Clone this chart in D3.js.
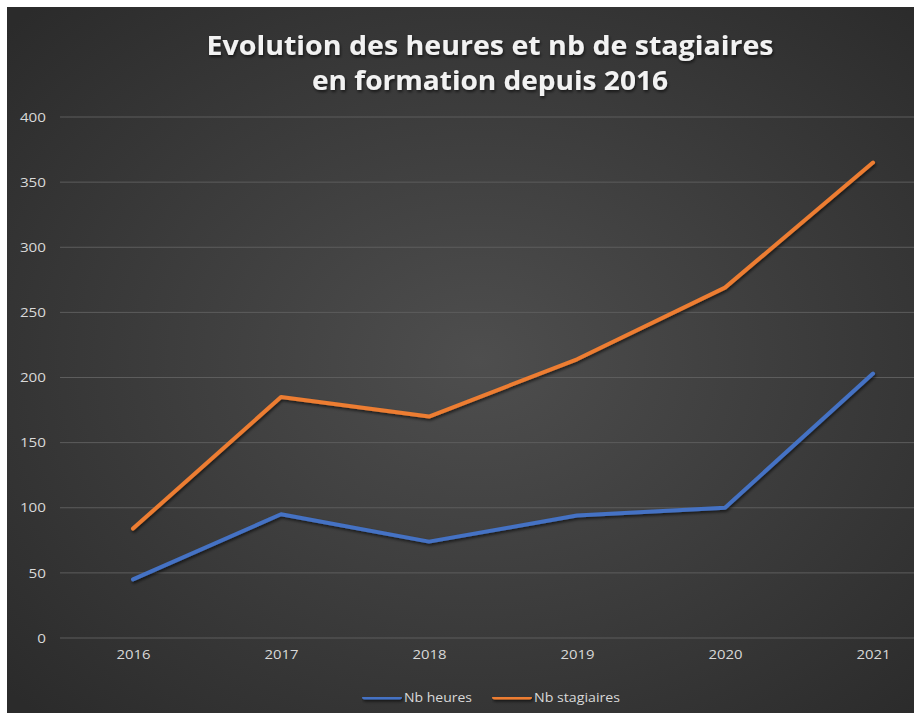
<!DOCTYPE html>
<html>
<head>
<meta charset="utf-8">
<script src="https://d3js.org/d3.v7.min.js"></script>
<style>
  html, body { margin: 0; padding: 0; background: #fff; }
  svg { display: block; }
  text { font-family: "Open Sans", "DejaVu Sans", sans-serif; }
</style>
</head>
<body>
<svg id="chart" width="914" height="717"></svg>
<script>
// data
const years = ["2016", "2017", "2018", "2019", "2020", "2021"];
const nbHeures = [45, 95, 74, 94, 100, 203];
const nbStagiaires = [84, 185, 170, 214, 269, 365];
const yTicks = [0, 50, 100, 150, 200, 250, 300, 350, 400];
const titleLines = ["Evolution des heures et nb de stagiaires", "en formation depuis 2016"];
const seriesNames = ["Nb heures", "Nb stagiaires"];
const seriesColors = ["#4472C4", "#ED7D31"];

const svg = d3.select("#chart");
const W = +svg.attr("width"), H = +svg.attr("height");

// background panel with a soft radial gradient
const defs = svg.append("defs");
const grad = defs.append("radialGradient")
    .attr("id", "bg").attr("cx", "52%").attr("cy", "50%").attr("r", "70%");
grad.append("stop").attr("offset", "0%").attr("stop-color", "#4e4e4e");
grad.append("stop").attr("offset", "100%").attr("stop-color", "#2b2b2b");

// shadow filter in user space so flat shapes don't vanish
const sh = defs.append("filter").attr("id", "shadow")
    .attr("filterUnits", "userSpaceOnUse")
    .attr("x", 0).attr("y", 0).attr("width", W).attr("height", H);
sh.append("feDropShadow").attr("dx", 1).attr("dy", 2).attr("stdDeviation", 1.5)
    .attr("flood-color", "#000").attr("flood-opacity", 0.6);

svg.append("rect")
    .attr("x", 7).attr("y", 7).attr("width", W - 7).attr("height", 706)
    .attr("fill", "url(#bg)");

// scales
const x = d3.scalePoint().domain(years).range([133, 873]);
const y = d3.scaleLinear().domain([0, 400]).range([638, 117]);
const gridLeft = 60, gridRight = W;

// title
const titleWidths = [567, 356];
const titleBase = [55, 90];
svg.append("g").attr("class", "title")
  .selectAll("text").data(titleLines).enter().append("text")
    .attr("x", 490)
    .attr("y", (d, i) => titleBase[i])
    .attr("text-anchor", "middle")
    .attr("font-size", "27px")
    .attr("font-weight", "bold")
    .attr("fill", "#f2f2f2")
    .attr("textLength", (d, i) => titleWidths[i])
    .attr("lengthAdjust", "spacingAndGlyphs")
    .attr("filter", "url(#shadow)")
    .text(d => d);

// gridlines
svg.append("g").attr("class", "grid")
  .selectAll("line").data(yTicks).enter().append("line")
    .attr("x1", gridLeft).attr("x2", gridRight)
    .attr("y1", d => y(d)).attr("y2", d => y(d))
    .attr("stroke", "#5d5d5d").attr("stroke-width", 1);

// y axis labels
const yAxis = d3.axisLeft(y).tickValues(yTicks).tickSize(0).tickPadding(0);
const gy = svg.append("g").attr("transform", "translate(46,0)").call(yAxis);
gy.select(".domain").remove();
gy.selectAll("text")
    .attr("fill", "#d9d9d9")
    .attr("font-size", "13px")
    .attr("font-family", "'Open Sans', sans-serif")
    .attr("textLength", d => String(d).length * 8.7)
    .attr("lengthAdjust", "spacingAndGlyphs");

// x axis labels
const xAxis = d3.axisBottom(x).tickSize(0).tickPadding(0);
const gx = svg.append("g").attr("transform", "translate(0,650)").call(xAxis);
gx.select(".domain").remove();
gx.selectAll("text")
    .attr("fill", "#d9d9d9")
    .attr("font-size", "13px")
    .attr("font-family", "'Open Sans', sans-serif")
    .attr("textLength", 34)
    .attr("lengthAdjust", "spacingAndGlyphs");

// lines
const line = d3.line().x((d, i) => x(years[i])).y(d => y(d));
const series = [nbHeures, nbStagiaires];
svg.append("g").attr("class", "lines")
  .selectAll("path").data(series).enter().append("path")
    .attr("d", d => line(d))
    .attr("fill", "none")
    .attr("stroke", (d, i) => seriesColors[i])
    .attr("stroke-width", 4)
    .attr("stroke-linecap", "round")
    .attr("stroke-linejoin", "round")
    .attr("filter", "url(#shadow)");

// legend
const legX = [362, 492];
const legTextW = [68, 86];
const leg = svg.append("g").attr("class", "legend")
  .selectAll("g").data(seriesNames).enter().append("g")
    .attr("transform", (d, i) => `translate(${legX[i]},697)`);
leg.append("rect")
    .attr("x", 0).attr("y", -2.5).attr("width", 40).attr("height", 5)
    .attr("rx", 2.5)
    .attr("fill", (d, i) => seriesColors[i])
    .attr("filter", "url(#shadow)");
leg.append("text")
    .attr("x", 42).attr("y", 5)
    .attr("font-size", "13px")
    .attr("fill", "#d9d9d9")
    .attr("textLength", (d, i) => legTextW[i])
    .attr("lengthAdjust", "spacingAndGlyphs")
    .text(d => d);
</script>
</body>
</html>
